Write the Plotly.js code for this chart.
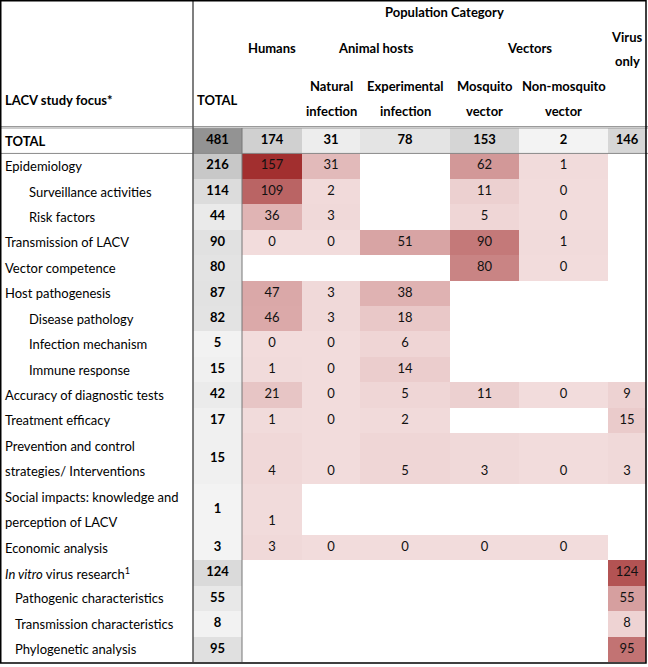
<!DOCTYPE html>
<html>
<head>
<meta charset="utf-8">
<script src="https://cdn.plot.ly/plotly-3.0.1.min.js"></script>
<style>html,body{margin:0;padding:0;background:#fff;}#chart{width:648px;height:667px;}</style>
</head>
<body>
<div id="chart"></div>
<script>
// ---------------- DATA ----------------
const categories = [
  "TOTAL",
  "Epidemiology",
  "Surveillance activities",
  "Risk factors",
  "Transmission of LACV",
  "Vector competence",
  "Host pathogenesis",
  "Disease pathology",
  "Infection mechanism",
  "Immune response",
  "Accuracy of diagnostic tests",
  "Treatment efficacy",
  "Prevention and control<br>strategies/ Interventions",
  "Social impacts: knowledge and<br>perception of LACV",
  "Economic analysis",
  "<i>In vitro</i> virus research<sup>1</sup>",
  "Pathogenic characteristics",
  "Transmission characteristics",
  "Phylogenetic analysis"
];
const populationColumns = ["Humans", "Natural infection", "Experimental infection", "Mosquito vector", "Non-mosquito vector", "Virus only"];
const totals       = [481, 216, 114, 44, 90, 80, 87, 82, 5, 15, 42, 17, 15, 1, 3, 124, 55, 8, 95];
const humans       = [174, 157, 109, 36, 0, null, 47, 46, 0, 1, 21, 1, 4, 1, 3, null, null, null, null];
const natural      = [31, 31, 2, 3, 0, null, 3, 3, 0, 0, 0, 0, 0, null, 0, null, null, null, null];
const experimental = [78, null, null, null, 51, null, 38, 18, 6, 14, 5, 2, 5, null, 0, null, null, null, null];
const mosquito     = [153, 62, 11, 5, 90, 80, null, null, null, null, 11, null, 3, null, 0, null, null, null, null];
const nonMosquito  = [2, 1, 0, 0, 1, 0, null, null, null, null, 0, null, 0, null, 0, null, null, null, null];
const virusOnly    = [146, null, null, null, null, null, null, null, null, null, 9, 15, 3, null, null, 124, 55, 8, 95];

// ---------------- LAYOUT GEOMETRY (not data) ----------------
const W = 648, H = 667;
const colEdges = [193, 242, 302, 360, 450, 519, 608, 646];   // TOTAL + 6 population columns
const bodyTop = 128, unit = 25.43;
const rowSpans = [1,1,1,1,1,1,1,1,1,1,1,1,2,2,1,1,1,1,1];
const indents  = [3,3,27,27,3,3,3,27,27,27,3,3,3,3,3,3,13,13,13];
const FONT = "Lato, 'Open Sans', sans-serif";
const FS = 13;

const rowEdges = [bodyTop];
rowSpans.forEach(s => rowEdges.push(rowEdges[rowEdges.length-1] + s*unit));
const rowCenters = rowSpans.map((s,i) => (rowEdges[i]+rowEdges[i+1])/2);
const rowLastLine = rowSpans.map((s,i) => rowEdges[i+1] - unit/2);
const colCenters = colEdges.slice(0,-1).map((e,i)=> (e+colEdges[i+1])/2);

const series = [humans, natural, experimental, mosquito, nonMosquito, virusOnly];
const nR = categories.length, nC = 7;

// grey matrix: TOTAL column + TOTAL row ; red matrix: body cells
const zGrey = [], zRed = [];
for (let r=0; r<nR; r++){
  const g = [], d = [];
  for (let c=0; c<nC; c++){
    if (c===0){ g.push(totals[r]); d.push(null); }
    else {
      const v = series[c-1][r];
      if (r===0){ g.push(v); d.push(null); }
      else { g.push(null); d.push(v); }
    }
  }
  zGrey.push(g); zRed.push(d);
}

const traces = [];
traces.push({type:'heatmap', x: colEdges, y: rowEdges, z: zGrey, zmin:1, zmax:481,
  colorscale:[[0,'#f3f3f3'],[1,'#939393']], showscale:false, hoverinfo:'skip'});
traces.push({type:'heatmap', x: colEdges, y: rowEdges, z: zRed, zmin:0, zmax:157,
  colorscale:[[0,'#f2dcdc'],[1,'#a22f2f']], showscale:false, hoverinfo:'skip'});

// value texts
const bx=[], by=[], bt=[];   // bold (totals)
const nx=[], ny=[], nt=[];   // normal
for (let r=0; r<nR; r++){
  bx.push(colCenters[0]); by.push(rowCenters[r]); bt.push(String(totals[r]));
  for (let c=1; c<nC; c++){
    const v = series[c-1][r];
    if (v===null) continue;
    if (r===0){ bx.push(colCenters[c]); by.push(rowCenters[r]); bt.push(String(v)); }
    else { nx.push(colCenters[c]); ny.push(rowLastLine[r]); nt.push(String(v)); }
  }
}
traces.push({type:'scatter', mode:'text', x:bx, y:by, text:bt.map(t=>'<b>'+t+'</b>'),
  textfont:{family:FONT, size:FS, color:'#000'}, hoverinfo:'skip', showlegend:false});
traces.push({type:'scatter', mode:'text', x:nx, y:ny, text:nt,
  textfont:{family:FONT, size:FS, color:'#111'}, hoverinfo:'skip', showlegend:false});

// annotations: row labels
const annotations = [];
categories.forEach((lab, r) => {
  const lines = lab.split('<br>');
  lines.forEach((ln, k) => {
    const y = rowEdges[r] + unit*(k+0.5);
    annotations.push({x: indents[r], y: y, xref:'x', yref:'y', xanchor:'left', yanchor:'middle',
      text: r===0 ? '<b>'+ln+'</b>' : ln, showarrow:false,
      font:{family:FONT, size:FS, color:'#000'}});
  });
});
// header annotations
function hdr(text, x, y){
  annotations.push({x:x, y:y, xref:'x', yref:'y', xanchor:'center', yanchor:'middle',
    text:'<b>'+text+'</b>', showarrow:false, font:{family:FONT, size:FS, color:'#000'}});
}
hdr('Population Category', (colEdges[1]+colEdges[7])/2, 12);
hdr('Humans', colCenters[1], 48);
hdr('Animal hosts', (colEdges[2]+colEdges[4])/2, 48);
hdr('Vectors', (colEdges[4]+colEdges[6])/2, 48);
hdr('Virus', colCenters[6], 37);
hdr('only', colCenters[6], 61);
const sub = [null, null, ['Natural','infection'], ['Experimental','infection'], ['Mosquito','vector'], ['Non-mosquito','vector']];
sub.forEach((s,c)=>{ if(s){ hdr(s[0], colCenters[c], 86); hdr(s[1], colCenters[c], 111);} });
hdr('TOTAL', colCenters[0], 100);
annotations.push({x:3, y:100, xref:'x', yref:'y', xanchor:'left', yanchor:'middle',
  text:'<b>LACV study focus*</b>', showarrow:false, font:{family:FONT, size:FS, color:'#000'}});

// lines
const shapes = [
  {type:'line', xref:'x', yref:'y', x0:0, x1:W, y0:bodyTop-1.5, y1:bodyTop-1.5, line:{color:'#9a9a9a', width:1}},
  {type:'line', xref:'x', yref:'y', x0:0, x1:W, y0:bodyTop, y1:bodyTop, line:{color:'#9a9a9a', width:1}},
  {type:'line', xref:'x', yref:'y', x0:0, x1:W, y0:rowEdges[1], y1:rowEdges[1], line:{color:'#8a8a8a', width:1}},
  {type:'line', xref:'x', yref:'y', x0:colEdges[0], x1:colEdges[0], y0:0, y1:rowEdges[nR], line:{color:'#555', width:1.5}},
  {type:'line', xref:'x', yref:'y', x0:colEdges[1], x1:colEdges[1], y0:bodyTop, y1:rowEdges[nR], line:{color:'#777', width:1}},
  {type:'rect', xref:'x', yref:'y', x0:0.75, x1:colEdges[7], y0:0.75, y1:rowEdges[nR]+1, line:{color:'#000', width:1.5}}
];

const layout = {
  width: W, height: H,
  margin:{l:0, r:0, t:0, b:0, pad:0},
  paper_bgcolor:'#fff', plot_bgcolor:'#fff',
  xaxis:{range:[0, W], visible:false, fixedrange:true},
  yaxis:{range:[H, 0], visible:false, fixedrange:true},
  showlegend:false,
  annotations: annotations,
  shapes: shapes
};
Plotly.newPlot('chart', traces, layout, {staticPlot:true, displayModeBar:false});
</script>
</body>
</html>
